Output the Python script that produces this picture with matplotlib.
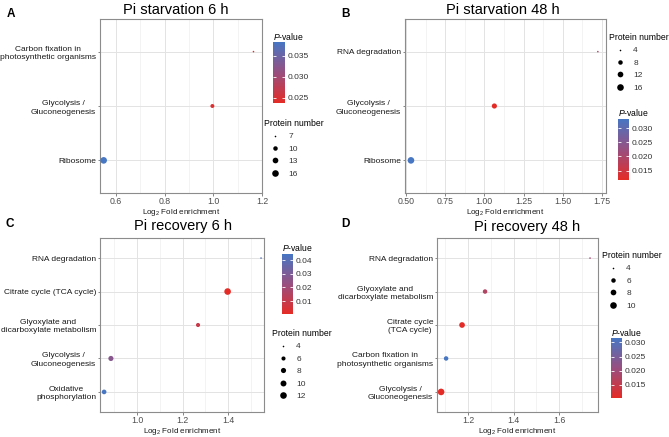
import numpy as np
import matplotlib
matplotlib.use('Agg')
import matplotlib.pyplot as plt
from matplotlib.colors import LinearSegmentedColormap, Normalize
from matplotlib.lines import Line2D
from matplotlib.ticker import MultipleLocator

plt.rcParams['font.family'] = ['Liberation Sans', 'DejaVu Sans']
plt.rcParams['mathtext.fontset'] = 'custom'
plt.rcParams['mathtext.rm'] = 'Liberation Sans'
plt.rcParams['mathtext.it'] = 'Liberation Sans:italic'
plt.rcParams['mathtext.default'] = 'regular'

# ---- data (top category first) ----
a_terms = ['Carbon fixation in\nphotosynthetic organisms', 'Glycolysis /\nGluconeogenesis', 'Ribosome']
a_fold = [1.165, 0.996, 0.549]
a_pval = [0.0238, 0.0246, 0.0383]
a_count = [7, 9, 16]
a_size_breaks = [7, 10, 13, 16]
a_p_labels = ['0.025', '0.030', '0.035']
a_xlim = (0.534, 1.2)

b_terms = ['RNA degradation', 'Glycolysis /\nGluconeogenesis', 'Ribosome']
b_fold = [1.724, 1.064, 0.532]
b_pval = [0.0200, 0.0117, 0.0332]
b_count = [4, 10, 16]
b_size_breaks = [4, 8, 12, 16]
b_p_labels = ['0.015', '0.020', '0.025', '0.030']
b_xlim = (0.494, 1.776)

c_terms = ['RNA degradation', 'Citrate cycle (TCA cycle)', 'Glyoxylate and\ndicarboxylate metabolism',
           'Glycolysis /\nGluconeogenesis', 'Oxidative\nphosphorylation']
c_fold = [1.545, 1.398, 1.268, 0.885, 0.855]
c_pval = [0.0400, 0.0005, 0.0090, 0.0270, 0.0445]
c_count = [4, 12, 6, 8, 7]
c_size_breaks = [4, 6, 8, 10, 12]
c_p_labels = ['0.01', '0.02', '0.03', '0.04']
c_xlim = (0.837, 1.558)

d_terms = ['RNA degradation', 'Glyoxylate and\ndicarboxylate metabolism', 'Citrate cycle\n(TCA cycle)',
           'Carbon fixation in\nphotosynthetic organisms', 'Glycolysis /\nGluconeogenesis']
d_fold = [1.736, 1.275, 1.174, 1.104, 1.082]
d_pval = [0.0190, 0.0175, 0.0105, 0.0316, 0.0102]
d_count = [4, 6, 8, 6, 10]
d_size_breaks = [4, 6, 8, 10]
d_p_labels = ['0.015', '0.020', '0.025', '0.030']
d_xlim = (1.064, 1.771)

W, H = 669, 437
fig = plt.figure(figsize=(W / 100, H / 100), dpi=100)
cmap = LinearSegmentedColormap.from_list('pv', ['#E52B26', '#984F80', '#4776C3'])


def rect(l, t, r, b):
    return [l / W, 1 - b / H, (r - l) / W, (b - t) / H]


def diam(v, lo, hi):
    # ggplot area palette: diameter grows with sqrt of rescaled value
    t = np.clip((np.asarray(v, float) - lo) / (hi - lo), 0, 1)
    return (1.6 + 5.0 * np.sqrt(t)) * 0.72  # in points


def panel(terms, fold, pval, count, breaks, p_labels, xlim, title, letter,
          ax_box, title_xy, letter_xy, xstep, cb_box, cb_title_xy, sl_xy):
    ax = fig.add_axes(rect(*ax_box))
    n = len(terms)
    y = np.arange(n)[::-1]
    lo, hi = min(count), max(count)
    norm = Normalize(min(pval), max(pval))
    sc = ax.scatter(fold, y, s=diam(count, lo, hi) ** 2, c=pval, cmap=cmap, norm=norm,
                    linewidths=0, zorder=3)
    ax.set_ylim(-0.6, n - 0.4)
    ax.set_xlim(*xlim)
    ax.set_yticks(y)
    ax.set_yticklabels(terms, multialignment='center', fontsize=6.0, color='#1A1A1A',
                       linespacing=1.3)
    ax.xaxis.set_major_locator(MultipleLocator(xstep))
    ax.xaxis.set_minor_locator(MultipleLocator(xstep / 2))
    ax.grid(True, which='major', color='#E3E3E3', lw=0.7)
    ax.grid(True, which='minor', axis='x', color='#EFEFEF', lw=0.5)
    ax.set_axisbelow(True)
    ax.tick_params(which='major', length=1.8, width=0.5, color='#555555', pad=1)
    ax.tick_params(which='minor', length=0)
    ax.tick_params(axis='x', labelsize=6.3, labelcolor='#4D4D4D', pad=0.8)
    for sp in ax.spines.values():
        sp.set_color('#8C8C8C')
        sp.set_linewidth(0.8)
    ax.set_xlabel('Log$_2$ Fold enrichment', fontsize=5.8, labelpad=1, color='#1A1A1A')

    fig.text(title_xy[0] / W, 1 - title_xy[1] / H, title, ha='center', va='center', fontsize=10.5)
    fig.text(letter_xy[0] / W, 1 - letter_xy[1] / H, letter, ha='center', va='center',
             fontsize=8.5, fontweight='bold')

    # colour bar
    cax = fig.add_axes(rect(*cb_box))
    cb = fig.colorbar(sc, cax=cax)
    cb.outline.set_visible(False)
    vals = [float(s) for s in p_labels]
    cb.set_ticks(vals)
    cb.set_ticklabels(p_labels)
    cax.tick_params(direction='in', length=2.2, width=0.6, color='white', labelsize=6,
                    labelcolor='#333333', pad=2, left=True, right=True, labelleft=False)
    fig.text(cb_title_xy[0] / W, 1 - cb_title_xy[1] / H, '$\\mathit{P}$-value',
             ha='left', va='center', fontsize=6.2)

    # size legend
    handles = [Line2D([], [], ls='none', marker='o', color='black', markeredgewidth=0,
                      markersize=float(diam(b, lo, hi))) for b in breaks]
    leg = ax.legend(handles, [str(b) for b in breaks], title='Protein number',
                    loc='upper left', bbox_to_anchor=(sl_xy[0] / W, 1 - sl_xy[1] / H),
                    bbox_transform=fig.transFigure, frameon=False, fontsize=6,
                    title_fontsize=6.2, alignment='left', handlelength=2.6,
                    handletextpad=0.3, labelspacing=0.55, borderpad=0, borderaxespad=0)
    for t in leg.get_texts():
        t.set_color('#333333')
    return ax


panel(a_terms, a_fold, a_pval, a_count, a_size_breaks, a_p_labels, a_xlim, 'Pi starvation 6 h', 'A',
      (100, 19, 262, 193), (176, 10), (11, 14), 0.2, (273, 42, 285, 103), (273, 36), (264, 119))
panel(b_terms, b_fold, b_pval, b_count, b_size_breaks, b_p_labels, b_xlim, 'Pi starvation 48 h', 'B',
      (405, 19, 606, 193), (503, 10), (345, 14), 0.25, (618, 119, 629, 180), (618, 113), (609, 33))
panel(c_terms, c_fold, c_pval, c_count, c_size_breaks, c_p_labels, c_xlim, 'Pi recovery 6 h', 'C',
      (100, 238, 264, 412), (183, 226), (10, 224), 0.2, (282, 254, 293, 314), (282, 248), (272, 329))
panel(d_terms, d_fold, d_pval, d_count, d_size_breaks, d_p_labels, d_xlim, 'Pi recovery 48 h', 'D',
      (437, 238, 598, 412), (527, 227), (345, 224), 0.2, (611, 338, 622, 398), (611, 332), (602, 251))

fig.savefig('out.png', dpi=100)
